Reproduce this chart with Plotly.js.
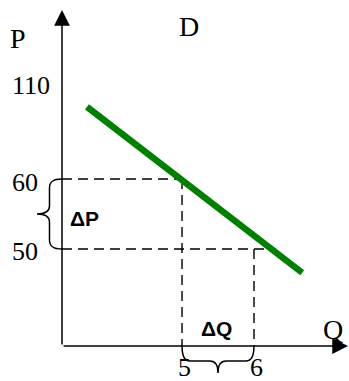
<!DOCTYPE html>
<html>
<head>
<meta charset="utf-8">
<script src="https://cdn.plot.ly/plotly-3.0.1.min.js"></script>
<style>html,body{margin:0;padding:0;background:#fff;}#chart{width:349px;height:381px;}</style>
</head>
<body>
<div id="chart"></div>
<script>
// ---- data (schematic demand diagram) ----
const qTickVals = [5, 6];
const qTickText = ['5', '6'];
const pTickVals = [73.4, 60, 50];          // schematic position of the labels
const pTickText = ['110', '60', '50'];
const demandQ = [3.68, 6.67];              // demand line end points
const demandP = [70.3, 46.6];
const pLevels = [60, 50];                  // dashed price levels
const pLevelEndQ = [5, 6.3];               // where the horizontal dashes stop
const qLevels = [5, 6];                    // dashed quantity levels
const qLevelTopP = [60, 50];
const qRange = [3.333, 7.306];
const pRange = [36.14, 84.14];

// ---- layout helpers ----
const W = 349, H = 381, L = 62, R = 1, T = 10, B = 35;
const pw = W - L - R, ph = H - T - B;
function px(x) { return (x - L) / pw; }
function py(y) { return (H - B - y) / ph; }
// data -> paper (shapes in paper units are not clipped to the plot area)
const qp = q => (q - qRange[0]) / (qRange[1] - qRange[0]);
const pp = p => (p - pRange[0]) / (pRange[1] - pRange[0]);
const dxp = v => v / pw, dyp = v => v / ph;   // pixel offsets in paper units

const traces = [];
// dashed guide lines
pLevels.forEach((p, i) => {
  traces.push({x: [qRange[0], pLevelEndQ[i]], y: [p, p], mode: 'lines',
    line: {color: '#000', width: 1.4, dash: '10px,6px'}, hoverinfo: 'skip', showlegend: false});
});
qLevels.forEach((q, i) => {
  traces.push({x: [q, q], y: [qLevelTopP[i], pRange[0]], mode: 'lines',
    line: {color: '#000', width: 1.4, dash: '10px,6px'}, hoverinfo: 'skip', showlegend: false});
});
// demand curve
traces.push({x: demandQ, y: demandP, mode: 'lines',
  line: {color: '#008000', width: 6.5}, hoverinfo: 'skip', showlegend: false});

const serif = {family: '"Liberation Serif", "Times New Roman", serif', color: '#000'};
const sans = {family: '"Liberation Sans", Arial, sans-serif', color: '#000'};

const annotations = [];
// axes arrows
annotations.push({x: qRange[0], y: pRange[1], ax: qRange[0], ay: pRange[0],
  xref: 'x', yref: 'y', axref: 'x', ayref: 'y', text: '', showarrow: true,
  arrowhead: 2, arrowsize: 2.1, arrowwidth: 1.5, arrowcolor: '#000'});
annotations.push({x: qRange[1], y: pRange[0], ax: qRange[0], ay: pRange[0],
  xref: 'x', yref: 'y', axref: 'x', ayref: 'y', text: '', showarrow: true,
  arrowhead: 2, arrowsize: 2.1, arrowwidth: 1.5, arrowcolor: '#000'});

// tick labels
const pLabelShift = [0, -4, -3];
pTickVals.forEach((v, i) => {
  annotations.push({x: qRange[0], y: v, xref: 'x', yref: 'y', xshift: -52, yshift: pLabelShift[i],
    xanchor: 'left', yanchor: 'middle', text: pTickText[i], showarrow: false,
    font: Object.assign({size: 26}, serif)});
});
qTickVals.forEach((v, i) => {
  annotations.push({x: v, y: 0, xref: 'x', yref: 'paper', yshift: -B - 3, xshift: i === 0 ? 2 : 3,
    xanchor: 'center', yanchor: 'bottom', text: qTickText[i], showarrow: false,
    font: Object.assign({size: 26}, serif)});
});

// letters
function label(text, x, y, font) {
  annotations.push({x: px(x), y: py(y), xref: 'paper', yref: 'paper', xanchor: 'center', yanchor: 'middle',
    text: text, showarrow: false, font: font});
}
label('P', 18, 38, Object.assign({size: 28}, serif));
label('D', 189, 26, Object.assign({size: 28}, serif));
label('Q', 333, 329, Object.assign({size: 28}, serif));
label('<b>ΔP</b>', 84, 218, Object.assign({size: 21}, sans));
label('<b>ΔQ</b>', 216, 328, Object.assign({size: 21}, sans));

// braces (paper units; brace depth given in pixels)
const f = v => v.toFixed(5);
const yHi = pp(pLevels[0]), yLo = pp(pLevels[1]), yMid = (yHi + yLo) / 2;
const xLo = qp(qLevels[0]), xHi = qp(qLevels[1]), xMid = (xLo + xHi) / 2;
const X0 = qp(qRange[0]), Y0 = pp(pRange[0]);
const hx = v => f(X0 + dxp(v));
const hy = v => f(Y0 + dyp(v));
const vy = v => f(v);
const leftBrace =
  `M ${hx(0)},${vy(yHi)} C ${hx(-8)},${vy(yHi)} ${hx(-12.5)},${vy(yHi - dyp(2))} ${hx(-12.5)},${vy(yHi - dyp(9))} ` +
  `L ${hx(-12.5)},${vy(yMid + dyp(8))} C ${hx(-12.5)},${vy(yMid + dyp(2))} ${hx(-17)},${vy(yMid)} ${hx(-25)},${vy(yMid)} ` +
  `C ${hx(-17)},${vy(yMid)} ${hx(-12.5)},${vy(yMid - dyp(2))} ${hx(-12.5)},${vy(yMid - dyp(8))} ` +
  `L ${hx(-12.5)},${vy(yLo + dyp(9))} C ${hx(-12.5)},${vy(yLo + dyp(2))} ${hx(-8)},${vy(yLo)} ${hx(0)},${vy(yLo)}`;
const bottomBrace =
  `M ${f(xLo)},${hy(0)} C ${f(xLo)},${hy(-9)} ${f(xLo + dxp(2))},${hy(-15)} ${f(xLo + dxp(8))},${hy(-15)} ` +
  `L ${f(xMid - dxp(8))},${hy(-15)} C ${f(xMid - dxp(2))},${hy(-15)} ${f(xMid)},${hy(-19)} ${f(xMid)},${hy(-27)} ` +
  `C ${f(xMid)},${hy(-19)} ${f(xMid + dxp(2))},${hy(-15)} ${f(xMid + dxp(8))},${hy(-15)} ` +
  `L ${f(xHi - dxp(8))},${hy(-15)} C ${f(xHi - dxp(2))},${hy(-15)} ${f(xHi)},${hy(-9)} ${f(xHi)},${hy(0)}`;
const shapes = [
  {type: 'path', xref: 'paper', yref: 'paper', path: leftBrace, line: {color: '#000', width: 1.5}},
  {type: 'path', xref: 'paper', yref: 'paper', path: bottomBrace, line: {color: '#000', width: 1.5}}
];

const hiddenAxis = {showgrid: false, zeroline: false, showline: false, showticklabels: false,
  ticks: '', fixedrange: true};
const layout = {
  width: W, height: H,
  margin: {l: L, r: R, t: T, b: B, pad: 0},
  paper_bgcolor: '#fff', plot_bgcolor: '#fff',
  xaxis: Object.assign({range: qRange}, hiddenAxis),
  yaxis: Object.assign({range: pRange}, hiddenAxis),
  annotations: annotations,
  shapes: shapes,
  showlegend: false
};
Plotly.newPlot('chart', traces, layout, {displayModeBar: false, staticPlot: true});
</script>
</body>
</html>
